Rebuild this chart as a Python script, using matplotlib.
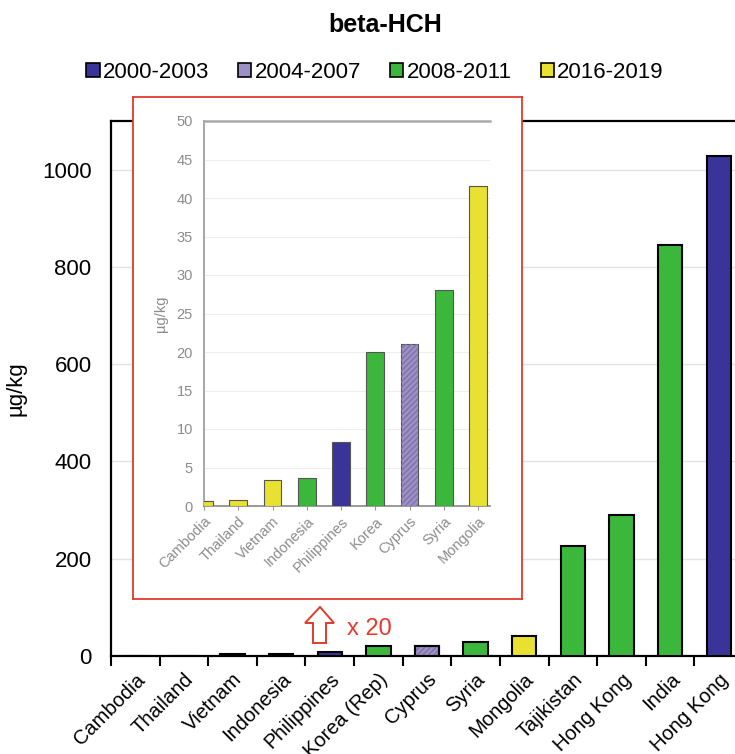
import matplotlib
matplotlib.use("Agg")
import matplotlib.pyplot as plt
from matplotlib.patches import Polygon
import numpy as np

plt.rcParams['font.family'] = ['Liberation Sans', 'DejaVu Sans']

# ---------------- data ----------------
categories = ["Cambodia", "Thailand", "Vietnam", "Indonesia", "Philippines",
              "Korea (Rep)", "Cyprus", "Syria", "Mongolia", "Tajikistan",
              "Hong Kong", "India", "Hong Kong"]
values = [0.6, 0.8, 3.4, 3.7, 8.3, 20.0, 21.1, 28.0, 41.6, 227, 290, 846, 1028]
periods = ["2016-2019", "2016-2019", "2016-2019", "2008-2011", "2000-2003",
           "2008-2011", "2004-2007", "2008-2011", "2016-2019", "2008-2011",
           "2008-2011", "2008-2011", "2000-2003"]

legend_labels = ["2000-2003", "2004-2007", "2008-2011", "2016-2019"]
period_colors = {"2000-2003": "#3a3499", "2004-2007": "#9d90c6",
                 "2008-2011": "#3bb83b", "2016-2019": "#e8e132"}

inset_categories = ["Cambodia", "Thailand", "Vietnam", "Indonesia", "Philippines",
                    "Korea", "Cyprus", "Syria", "Mongolia"]
inset_values = [0.6, 0.8, 3.4, 3.7, 8.3, 20.0, 21.1, 28.0, 41.6]
inset_periods = periods[:9]

yticks_main = [0, 200, 400, 600, 800, 1000]
yticks_inset = [0, 5, 10, 15, 20, 25, 30, 35, 40, 45, 50]

W, H = 735, 754
fig = plt.figure(figsize=(W / 100, H / 100), dpi=100)


def fx(px):
    return px / W


def fy(py):
    return 1 - py / H


# ---------------- main axes ----------------
ax = fig.add_axes([fx(111), fy(656), fx(743) - fx(111), fy(121) - fy(656)])
x = np.arange(len(categories))
cols = [period_colors[p] for p in periods]
ax.bar(x, values, width=0.5, color=cols, edgecolor="black", linewidth=1.5, zorder=3)
for xi, v, p in zip(x, values, periods):
    if p == "2004-2007":
        ax.bar(xi, v, width=0.5, color="none", edgecolor="#8070a8",
               hatch="//////", linewidth=0, zorder=3.5)
        ax.bar(xi, v, width=0.5, color="none", edgecolor="black",
               linewidth=1.5, zorder=3.6)
ax.set_xlim(-0.5, len(categories) - 0.5)
ax.set_ylim(0, 1100)
ax.set_yticks(yticks_main)
ax.set_yticklabels([str(t) for t in yticks_main], fontsize=16)
ax.tick_params(axis="y", length=0, pad=14)
ax.set_xticks(x)
ax.set_xticklabels(categories, rotation=45, ha="right", rotation_mode="anchor",
                   fontsize=14.5)
ax.tick_params(axis="x", length=0, pad=10)
ax.set_xticks(np.arange(len(categories) + 1) - 0.5, minor=True)
ax.tick_params(axis="x", which="minor", length=7, width=1.5, direction="out")
ax.grid(axis="y", color="#e3e3e3", linewidth=1, zorder=0)
for s in ["left", "bottom", "top", "right"]:
    ax.spines[s].set_linewidth(1.6)
    ax.spines[s].set_color("black")
ax.set_ylabel("µg/kg", fontsize=16)
ax.yaxis.set_label_coords((fx(27) - fx(111)) / (fx(743) - fx(111)), 0.5)

# ---------------- title & legend ----------------
fig.text(fx(385), fy(25), "beta-HCH", ha="center", va="center",
         fontsize=18, fontweight="bold")
handles = [plt.Rectangle((0, 0), 1, 1, facecolor=period_colors[l],
                         edgecolor="black", linewidth=1.2) for l in legend_labels]
fig.legend(handles, legend_labels, loc="center", bbox_to_anchor=(fx(375), fy(72)),
           ncol=4, frameon=False, fontsize=16, handlelength=0.6, handleheight=0.6,
           handletextpad=0.15, columnspacing=1.3)

# ---------------- inset (red box) ----------------
box = fig.add_axes([fx(133), fy(599), fx(522) - fx(133), fy(97) - fy(599)])
box.set_xticks([])
box.set_yticks([])
box.set_facecolor("white")
for s in box.spines.values():
    s.set_color("#e4392b")
    s.set_linewidth(1.3)
box.set_zorder(5)

iax = fig.add_axes([fx(204), fy(506), fx(490) - fx(204), fy(121) - fy(506)])
iax.set_zorder(6)
iax.set_facecolor("white")
ix = np.arange(len(inset_categories))
icols = [period_colors[p] for p in inset_periods]
iax.bar(ix, inset_values, width=0.52, color=icols, edgecolor="#555555",
        linewidth=0.8, zorder=3)
for xi, v, p in zip(ix, inset_values, inset_periods):
    if p == "2004-2007":
        iax.bar(xi, v, width=0.52, color="none", edgecolor="#7f72a8",
                hatch="//////", linewidth=0, zorder=3.5)
iax.set_xlim(0, 8.35)
iax.set_ylim(0, 50)
iax.set_yticks(yticks_inset)
iax.set_yticklabels([str(t) for t in yticks_inset], fontsize=10.5, color="#8c8c8c")
iax.tick_params(axis="y", length=0, pad=8)
iax.set_xticks(ix)
iax.set_xticklabels(inset_categories, rotation=45, ha="right",
                    rotation_mode="anchor", fontsize=10.5, color="#8c8c8c")
iax.tick_params(axis="x", length=3, color="#999999", pad=3)
iax.grid(axis="y", color="#eeeeee", linewidth=0.8, zorder=0)
iax.spines["right"].set_visible(False)
iax.spines["top"].set_color("#aaaaaa")
iax.spines["top"].set_linewidth(1.8)
iax.spines["left"].set_color("#aaaaaa")
iax.spines["left"].set_linewidth(1.5)
iax.spines["bottom"].set_color("#888888")
iax.spines["bottom"].set_linewidth(1.2)
iax.set_ylabel("µg/kg", fontsize=10.5, color="#8c8c8c")
iax.yaxis.set_label_coords((fx(168) - fx(204)) / (fx(490) - fx(204)), 0.5)

# ---------------- arrow & "x 20" ----------------
arrow_px = [(320, 607), (334, 623), (326, 623), (326, 643), (313, 643),
            (313, 623), (305, 623)]
poly = Polygon([(fx(a), fy(b)) for a, b in arrow_px], closed=True,
               transform=fig.transFigure, facecolor="white",
               edgecolor="#e4392b", linewidth=1.4)
fig.add_artist(poly)
fig.text(fx(347), fy(629), "x 20", ha="left", va="center", fontsize=17,
         color="#e4392b")

fig.savefig("out.png", dpi=100)
